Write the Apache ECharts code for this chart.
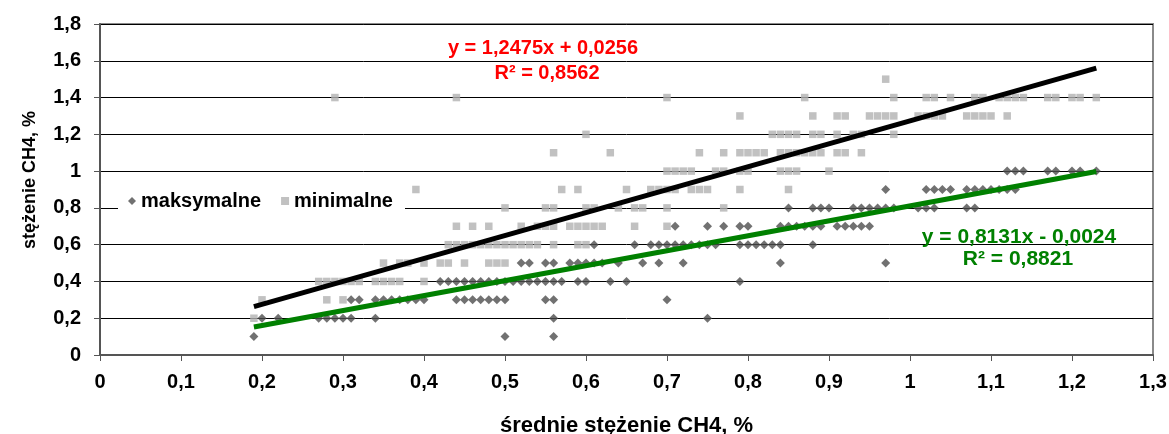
<!DOCTYPE html>
<html>
<head>
<meta charset="utf-8">
<script src="https://cdn.jsdelivr.net/npm/echarts@6/dist/echarts.min.js"></script>
<style>
html,body{margin:0;padding:0;background:#fff;}
#chart{width:1169px;height:434px;}
</style>
</head>
<body>
<div id="chart"></div>
<script>
// ---- DATA ----
var xTicks = ['0','0,1','0,2','0,3','0,4','0,5','0,6','0,7','0,8','0,9','1','1,1','1,2','1,3'];
var yTicks = ['0','0,2','0,4','0,6','0,8','1','1,2','1,4','1,6','1,8'];

// maksymalne: x values grouped by y level
var maksRows = {
  0.1: [0.19, 0.50, 0.56],
  0.2: [0.20, 0.22, 0.27, 0.28, 0.29, 0.30, 0.31, 0.34, 0.56, 0.75],
  0.3: [0.31, 0.32, 0.34, 0.35, 0.36, 0.37, 0.38, 0.39, 0.40, 0.44, 0.45, 0.46, 0.47, 0.48, 0.49, 0.50, 0.55, 0.56, 0.70],
  0.4: [0.42, 0.43, 0.44, 0.45, 0.46, 0.47, 0.48, 0.49, 0.50, 0.51, 0.52, 0.53, 0.54, 0.55, 0.56, 0.57, 0.59, 0.60, 0.63, 0.65, 0.79],
  0.5: [0.52, 0.53, 0.55, 0.56, 0.58, 0.59, 0.60, 0.61, 0.62, 0.64, 0.67, 0.69, 0.72, 0.84, 0.97],
  0.6: [0.61, 0.66, 0.68, 0.69, 0.70, 0.71, 0.72, 0.73, 0.74, 0.75, 0.76, 0.79, 0.80, 0.81, 0.82, 0.83, 0.84, 0.88],
  0.7: [0.71, 0.75, 0.77, 0.79, 0.80, 0.84, 0.85, 0.86, 0.87, 0.88, 0.89, 0.91, 0.92, 0.93, 0.94, 0.95],
  0.8: [0.85, 0.88, 0.89, 0.90, 0.93, 0.94, 0.95, 0.96, 0.97, 0.98, 1.01, 1.02, 1.03, 1.07, 1.08],
  0.9: [0.97, 1.02, 1.03, 1.04, 1.05, 1.07, 1.08, 1.09, 1.10, 1.11, 1.12, 1.13],
  1.0: [1.12, 1.13, 1.14, 1.17, 1.18, 1.20, 1.21, 1.23]
};

// minimalne: x values grouped by y level
var minRows = {
  0.2: [0.19],
  0.3: [0.20, 0.28, 0.30],
  0.4: [0.27, 0.28, 0.29, 0.30, 0.31, 0.32, 0.34, 0.35, 0.36, 0.37, 0.40],
  0.5: [0.35, 0.37, 0.38, 0.40, 0.42, 0.43, 0.45, 0.48, 0.49, 0.50],
  0.6: [0.43, 0.44, 0.45, 0.46, 0.47, 0.48, 0.49, 0.50, 0.51, 0.52, 0.53, 0.54, 0.56, 0.59, 0.60],
  0.7: [0.44, 0.46, 0.48, 0.52, 0.54, 0.55, 0.56, 0.58, 0.59, 0.60, 0.61, 0.62, 0.66, 0.70],
  0.8: [0.50, 0.55, 0.56, 0.60, 0.61, 0.64, 0.66, 0.67, 0.70, 0.77],
  0.9: [0.39, 0.57, 0.59, 0.65, 0.68, 0.69, 0.70, 0.71, 0.73, 0.74, 0.75, 0.79, 0.85],
  1.0: [0.70, 0.71, 0.72, 0.73, 0.76, 0.77, 0.79, 0.80, 0.84, 0.85, 0.86, 0.90],
  1.1: [0.56, 0.63, 0.74, 0.77, 0.79, 0.80, 0.81, 0.82, 0.84, 0.85, 0.86, 0.87, 0.88, 0.89, 0.91, 0.92, 0.94],
  1.2: [0.60, 0.83, 0.84, 0.85, 0.86, 0.88, 0.89, 0.91, 0.93, 0.94, 0.98],
  1.3: [0.79, 0.88, 0.91, 0.92, 0.95, 0.96, 0.97, 0.98, 1.01, 1.02, 1.03, 1.04, 1.07, 1.08, 1.09, 1.10, 1.12],
  1.4: [0.29, 0.44, 0.70, 0.87, 0.98, 1.02, 1.03, 1.05, 1.08, 1.09, 1.11, 1.12, 1.13, 1.14, 1.17, 1.18, 1.20, 1.21, 1.23],
  1.5: [0.97]
};

// trend line end points
var trendMinX = [0.19, 1.23];
var trendMinY = [0.263, 1.560];
var trendMaxX = [0.19, 1.23];
var trendMaxY = [0.152, 0.998];

var seriesNames = ['maksymalne', 'minimalne'];
var eqMin = ['y = 1,2475x + 0,0256', 'R² = 0,8562'];
var eqMax = ['y = 0,8131x - 0,0024', 'R² = 0,8821'];
var xAxisName = 'średnie stężenie CH4, %';
var yAxisName = 'stężenie CH4, %';

// ---- build ----
function rowsToPoints(rows) {
  var pts = [];
  Object.keys(rows).forEach(function (k) {
    rows[k].forEach(function (x) { pts.push([x, parseFloat(k)]); });
  });
  return pts;
}
function zip(xs, ys) { return xs.map(function (x, i) { return [x, ys[i]]; }); }

var FONT = 'Arial, "Liberation Sans", sans-serif';
var chart = echarts.init(document.getElementById('chart'), null, {renderer: 'canvas'});

function label(cx, cy, text, color, size, rot) {
  return {type: 'text', x: cx, y: cy, rotation: rot || 0, z: 10,
    style: {text: text, fill: color, font: 'bold ' + size + 'px ' + FONT, textAlign: 'center', textVerticalAlign: 'middle'}};
}

var option = {
  animation: false,
  backgroundColor: '#fff',
  grid: {left: 100, right: 16, top: 24, bottom: 79, outerBoundsMode: 'none', containLabel: false,
    show: true, borderColor: '#8a8a8a', borderWidth: 2, backgroundColor: 'transparent'},
  legend: {
    data: [{name: seriesNames[0], icon: 'diamond'}, {name: seriesNames[1], icon: 'rect'}],
    left: 118, top: 186,
    itemWidth: 8, itemHeight: 8, itemGap: 20,
    backgroundColor: '#fff',
    padding: [5, 12, 5, 10],
    textStyle: {fontFamily: FONT, fontWeight: 'bold', fontSize: 20, color: '#000'}
  },
  xAxis: {
    type: 'value', min: 0, max: 1.3, interval: 0.1,
    name: xAxisName, nameLocation: 'middle', nameGap: 60,
    nameTextStyle: {fontFamily: FONT, fontWeight: 'bold', fontSize: 22, color: '#000'},
    axisLine: {show: true, lineStyle: {color: '#555', width: 2}},
    axisTick: {show: true, length: 6, lineStyle: {color: '#555', width: 1}},
    axisLabel: {margin: 17, fontFamily: FONT, fontWeight: 'bold', fontSize: 20, color: '#000',
      formatter: function (v) { return xTicks[Math.round(v * 10)]; }},
    splitLine: {show: false}
  },
  yAxis: {
    type: 'value', min: 0, max: 1.8, interval: 0.2,
    axisLine: {show: true, lineStyle: {color: '#555', width: 2}},
    axisTick: {show: true, length: 6, lineStyle: {color: '#555', width: 1}},
    axisLabel: {margin: 19, fontFamily: FONT, fontWeight: 'bold', fontSize: 20, color: '#000',
      formatter: function (v) { return yTicks[Math.round(v * 5)]; }},
    splitLine: {show: true, lineStyle: {color: '#000', width: 1}}
  },
  series: [
    {
      name: seriesNames[0], type: 'scatter', symbol: 'diamond', symbolSize: 9,
      itemStyle: {color: '#4d4d4d'}, data: rowsToPoints(maksRows), z: 3
    },
    {
      name: seriesNames[1], type: 'scatter', symbol: 'rect', symbolSize: 7.5,
      itemStyle: {color: '#b2b2b2'}, data: rowsToPoints(minRows), z: 2
    },
    {
      name: 'trend min', type: 'line', symbol: 'none', data: zip(trendMinX, trendMinY),
      lineStyle: {color: '#000', width: 5}, z: 5, silent: true
    },
    {
      name: 'trend max', type: 'line', symbol: 'none', data: zip(trendMaxX, trendMaxY),
      lineStyle: {color: '#008000', width: 5}, z: 5, silent: true
    }
  ],
  graphic: [
    label(30, 180, yAxisName, '#000', 18, Math.PI / 2),
    label(543, 48, eqMin[0], '#ff0000', 20),
    label(547, 73, eqMin[1], '#ff0000', 20),
    label(1019, 237, eqMax[0], '#008000', 21),
    label(1018, 259, eqMax[1], '#008000', 21)
  ]
};
chart.setOption(option);
</script>
</body>
</html>
